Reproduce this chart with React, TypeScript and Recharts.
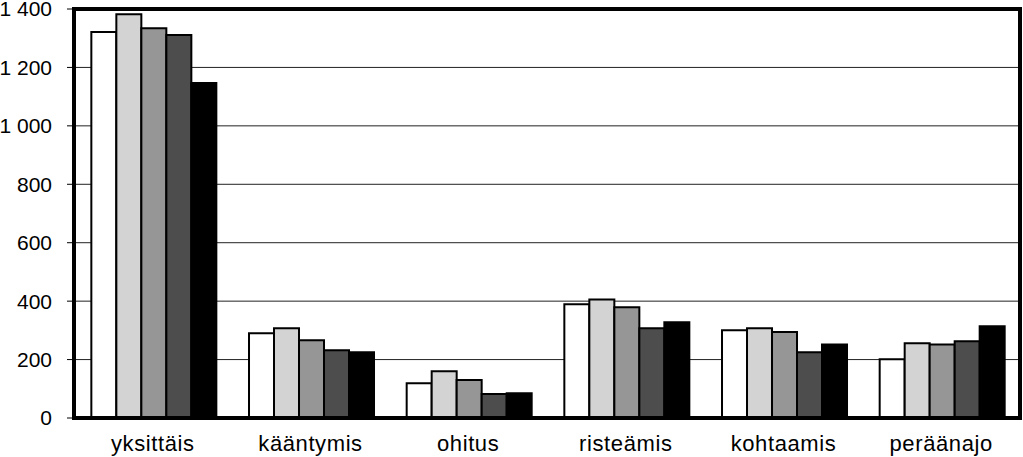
import React from 'react';
import { BarChart, Bar, XAxis, YAxis, CartesianGrid, ReferenceArea } from 'recharts';

const categories = ['yksittäis', 'kääntymis', 'ohitus', 'risteämis', 'kohtaamis', 'peräänajo'];
const series1 = [1321, 290, 119, 389, 300, 201];
const series2 = [1382, 307, 160, 406, 307, 256];
const series3 = [1334, 266, 130, 379, 294, 252];
const series4 = [1311, 232, 82, 307, 225, 263];
const series5 = [1147, 225, 85, 328, 252, 314];
const yTicks = [0, 200, 400, 600, 800, 1000, 1200, 1400];

const seriesList = [
  { key: 's1', values: series1, fill: '#ffffff' },
  { key: 's2', values: series2, fill: '#d3d3d3' },
  { key: 's3', values: series3, fill: '#969696' },
  { key: 's4', values: series4, fill: '#4d4d4d' },
  { key: 's5', values: series5, fill: '#000000' },
];

const data = categories.map((name, i) => {
  const row: Record<string, string | number> = { name };
  seriesList.forEach((s) => {
    row[s.key] = s.values[i];
  });
  return row;
});

const fmt = (v: number) => String(v).replace(/\B(?=(\d{3})+(?!\d))/g, ' ');

const yFont = { fontFamily: '"Liberation Sans", Arial, sans-serif', fontSize: 21, fill: '#000' };
const xFont = { fontFamily: '"Liberation Sans", Arial, sans-serif', fontSize: 22, fill: '#000', letterSpacing: 0.6 };

export default function App() {
  return (
    <div style={{ position: 'absolute', left: 0, top: 0, background: '#fff' }}>
      <BarChart
        width={1023}
        height={457}
        data={data}
        margin={{ top: 9, right: 3, bottom: 0, left: 0 }}
        barCategoryGap="11%"
        barGap={0}
      >
        <CartesianGrid horizontal vertical={false} stroke="#222" strokeWidth={1} />
        <XAxis
          dataKey="name"
          tickLine={false}
          tickSize={0}
          tickMargin={17}
          axisLine={{ stroke: '#000', strokeWidth: 4 }}
          tick={xFont}
          height={39}
          interval={0}
        />
        <YAxis
          domain={[0, 1400]}
          ticks={yTicks}
          tickFormatter={fmt}
          width={74}
          tickSize={7}
          tickMargin={15}
          tickLine={{ stroke: '#000', strokeWidth: 1 }}
          axisLine={{ stroke: '#000', strokeWidth: 4 }}
          tick={yFont}
          interval={0}
        />
        {seriesList.map((s) => (
          <Bar
            key={s.key}
            dataKey={s.key}
            fill={s.fill}
            stroke="#000"
            strokeWidth={2}
            isAnimationActive={false}
          />
        ))}
        <ReferenceArea
          x1={categories[0]}
          x2={categories[categories.length - 1]}
          y1={0}
          y2={1400}
          fill="none"
          fillOpacity={0}
          stroke="#000"
          strokeWidth={4}
          strokeOpacity={1}
          ifOverflow="visible"
        />
      </BarChart>
    </div>
  );
}
